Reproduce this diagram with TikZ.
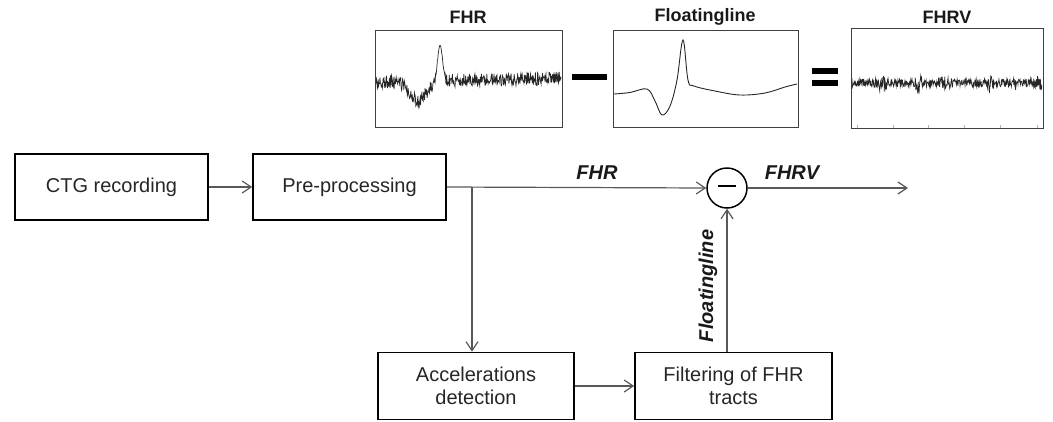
\documentclass[tikz,border=0pt]{standalone}
\usepackage{fontspec}
\setmainfont{Liberation Sans}
\usetikzlibrary{arrows.meta}
\begin{document}
\begin{tikzpicture}[x=1pt,y=-1pt,
  blk/.style={draw=black, line width=1.6pt, minimum width=193pt, minimum height=66pt, align=center,
    font=\fontsize{20}{23}\selectfont, text=black!85, inner sep=0pt},
  conn/.style={draw=black!65, line width=1.2pt, -{Straight Barb[length=9pt,width=12pt,line width=1.2pt]}},
  plain/.style={draw=black!65, line width=1.2pt},
  ttl/.style={font=\bfseries\fontsize{18}{20}\selectfont, text=black!90, inner sep=0pt},
  lbl/.style={font=\bfseries\itshape\fontsize{20}{22}\selectfont, text=black!90, inner sep=0pt},
  pbox/.style={draw=black!75, line width=1pt, inner sep=0pt},
  sig/.style={draw=black!85, line width=0.7pt},
  opbar/.style={draw=black, line width=6pt}
]
\useasboundingbox (0,0) rectangle (1053,421);
\pgfmathsetseed{7}

% ---- top plots
\node[pbox, minimum width=187pt, minimum height=97pt] (fhrbox) at (468.5,78.5) {};
\node[pbox, minimum width=185pt, minimum height=97pt] (flbox) at (705.5,78.5) {};
\node[pbox, minimum width=192pt, minimum height=100pt] (fhrvbox) at (947,78) {};
\node[ttl] (t1) at (468,17) {FHR};
\node[ttl] (t2) at (705,17) {Floatingline};
\node[ttl] (t3) at (947,17) {FHRV};

% minus and equals
\coordinate (m1) at (572,77); \coordinate (m2) at (607,77);
\draw[opbar] (m1) -- (m2);
\coordinate (e1) at (812,71); \coordinate (e2) at (838,71);
\coordinate (e3) at (812,83); \coordinate (e4) at (838,83);
\draw[opbar] (e1) -- (e2);
\draw[opbar] (e3) -- (e4);

% FHR signal
\draw[sig] plot[domain=376:561, samples=420]
  (\x, {82 - 0.02*(\x-376) + 19*exp(-(min(abs(\x-418)/12,4))^2) - 36*exp(-(min(abs(\x-440)/3.5,4))^2)
        + 6.5*rand*(1-exp(-(min(abs(\x-440)/5,4))^2))});

% Floatingline signal
\draw[sig, line width=0.9pt] plot[smooth, tension=0.6] coordinates {
  (614,94) (630,92.5) (647,89) (655,101) (662,115) (670,106) (677,80) (683,40) (688,80) (694,86)
  (715,91) (740,95) (765,93) (785,87) (797,84)};

% FHRV signal
\draw[sig] plot[domain=852:1042, samples=460]
  (\x, {83 + rand*(4 + 9*exp(-(min(abs(\x-882)/4,4))^2) + 7*exp(-(min(abs(\x-918)/4,4))^2)
        + 5*exp(-(min(abs(\x-945)/5,4))^2)
        + 6*exp(-(min(abs(\x-990)/4,4))^2) + 5*exp(-(min(abs(\x-1038)/4,4))^2))});
\foreach \tx in {857,893,928,964,1000,1037}{
  \draw[black!30, line width=0.6pt] (\tx,128) -- (\tx,125);
}

% ---- block diagram
\node[blk] (ctg) at (111.5,187) {CTG recording};
\node[blk] (pre) at (349.5,187) {Pre-processing};
\node[blk, minimum width=196pt, minimum height=67pt] (acc) at (476,386) {Accelerations\\detection};
\node[blk, minimum width=197pt, minimum height=67pt] (fil) at (733.5,386) {Filtering of FHR\\tracts};
\node[circle, draw=black, line width=1.5pt, minimum size=40pt, inner sep=0pt] (sum) at (727,188) {};
\draw[black, line width=2pt] ([xshift=-9pt,yshift=2pt]sum.center) -- ([xshift=9pt,yshift=2pt]sum.center);

\coordinate (br) at (472,187);
\coordinate (out) at (908,188);

\draw[conn] (ctg) -- (pre);
\draw[conn] (pre.east) -- (sum.west);
\draw[conn] (br) -- (br |- acc.north);
\draw[conn] (acc) -- (fil);
\draw[conn] (sum |- fil.north) -- (sum.south);
\draw[conn] (sum.east) -- (out);

\node[lbl] (lfhr) at (597,173) {FHR};
\node[lbl] (lfhrv) at (792,173) {FHRV};
\node[lbl, rotate=90] (lfl) at (708,286) {Floatingline};
\end{tikzpicture}
\end{document}
